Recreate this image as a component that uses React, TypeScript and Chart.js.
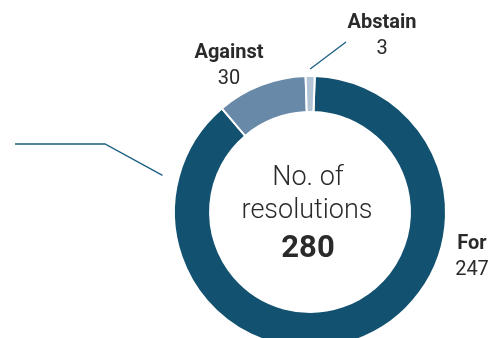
import React, { useEffect, useRef } from "react";
import { Chart, registerables } from "chart.js";

Chart.register(...registerables);

const categories = ["For", "Against", "Abstain"];
const votes = [247, 30, 3];
const total = 280;
const centerLines = ["No. of", "resolutions"];
const segmentColors = ["#12516f", "#6889a8", "#b2c4d6"];

const FONT = "Roboto, 'Noto Sans', sans-serif";
const INK = "#2a2a2a";
const LINE = "#1b5e80";

const labelPlugin = {
  id: "labels",
  afterDraw(chart: any) {
    const ctx = chart.ctx;
    const meta = chart.getDatasetMeta(0);
    const arc0 = meta.data[0];
    const cx = arc0.x;
    const cy = arc0.y;
    ctx.save();
    ctx.textAlign = "center";
    ctx.textBaseline = "alphabetic";
    ctx.fillStyle = INK;
    // centre text
    ctx.font = `300 27px ${FONT}`;
    ctx.fillText(centerLines[0], cx - 2, cy - 27);
    ctx.fillText(centerLines[1], cx - 3, cy + 6);
    ctx.font = `bold 31px ${FONT}`;
    ctx.fillText(String(total), cx - 2, cy + 45);

    // outside labels
    const pos = [
      { x: 472, y: 249 },
      { x: 229, y: 58 },
      { x: 382, y: 28 },
    ];
    categories.forEach((c, i) => {
      ctx.fillStyle = INK;
      ctx.font = `bold 20px ${FONT}`;
      ctx.fillText(c, pos[i].x, pos[i].y);
      ctx.font = `20px ${FONT}`;
      ctx.fillText(String(votes[i]), pos[i].x, pos[i].y + 26);
    });

    // leader for Abstain
    const a2 = meta.data[2];
    const mid = (a2.startAngle + a2.endAngle) / 2;
    const r = a2.outerRadius + 7;
    ctx.strokeStyle = LINE;
    ctx.lineWidth = 1.3;
    ctx.beginPath();
    ctx.moveTo(cx + Math.cos(mid) * r, cy + Math.sin(mid) * r);
    ctx.lineTo(346, 42);
    ctx.stroke();

    // left leader line
    const ang = Math.atan2(-37, -149);
    const r2 = arc0.outerRadius + 16;
    ctx.beginPath();
    ctx.moveTo(15, 144);
    ctx.lineTo(105, 144);
    ctx.lineTo(cx + Math.cos(ang) * r2, cy + Math.sin(ang) * r2);
    ctx.stroke();
    ctx.restore();
  },
};

export default function App() {
  const ref = useRef<HTMLCanvasElement>(null);
  useEffect(() => {
    const chart = new Chart(ref.current!, {
      type: "doughnut",
      data: {
        labels: categories,
        datasets: [
          {
            data: votes,
            backgroundColor: segmentColors,
            borderColor: "#ffffff",
            borderWidth: 2,
          },
        ],
      },
      options: {
        responsive: false,
        animation: false,
        rotation: 2,
        cutout: "73.5%",
        layout: { padding: { left: 173, right: 49, top: 75, bottom: 81 } },
        plugins: { legend: { display: false }, tooltip: { enabled: false } },
      },
      plugins: [labelPlugin],
    });
    return () => chart.destroy();
  }, []);
  return (
    <div
      style={{
        position: "fixed",
        left: 0,
        top: 0,
        width: 496,
        height: 338,
        overflow: "hidden",
        background: "#fff",
      }}
    >
      <canvas ref={ref} width={496} height={430} style={{ display: "block" }} />
    </div>
  );
}
